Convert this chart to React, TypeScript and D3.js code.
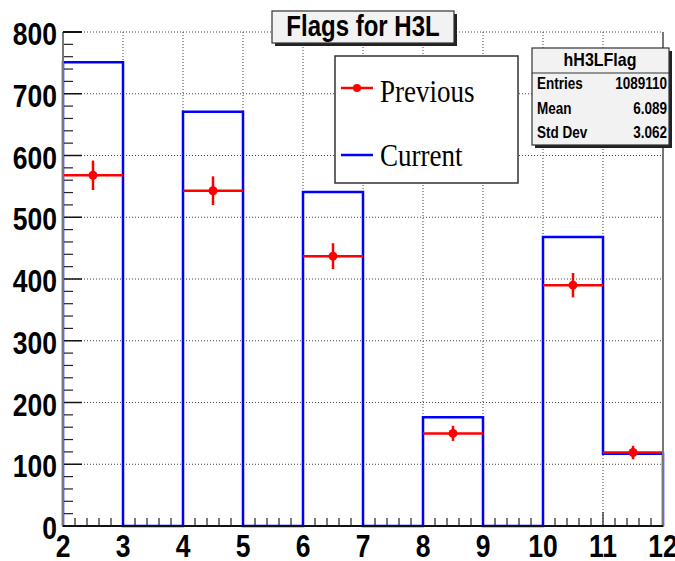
import React from "react";
import * as d3 from "d3";

const binLow = [2, 3, 4, 5, 6, 7, 8, 9, 10, 11];
const currentValues = [751, 0, 671, 0, 541, 0, 176, 0, 468, 117];
const previousValues = [568, 0, 543, 0, 437, 0, 150, 0, 390, 119];
const xTickValues = [2, 3, 4, 5, 6, 7, 8, 9, 10, 11, 12];
const yTickValues = [0, 100, 200, 300, 400, 500, 600, 700, 800];
const titleText = "Flags for H3L";
const legendLabels = ["Previous", "Current"];
const statsName = "hH3LFlag";
const statsRows: [string, string][] = [
  ["Entries", "1089110"],
  ["Mean", "6.089"],
  ["Std Dev", "3.062"],
];

const W = 675;
const H = 561;
const L = 63, R = 663, T = 32, B = 526;
const SANS = "'Liberation Sans', Arial, Helvetica, sans-serif";
const SERIF = "'Liberation Serif', 'Times New Roman', serif";

export default function App() {
  const x = d3.scaleLinear().domain([2, 12]).range([L, R]);
  const y = d3.scaleLinear().domain([0, 800]).range([B, T]);

  // step path for current histogram
  const pts: [number, number][] = [[2, 0]];
  binLow.forEach((lo, i) => {
    pts.push([lo, currentValues[i]]);
    pts.push([lo + 1, currentValues[i]]);
  });
  pts.push([12, 0]);
  const line = d3
    .line<[number, number]>()
    .x((d) => x(d[0]))
    .y((d) => y(d[1]));
  const stepPath = line(pts) || "";

  const yMinor: number[] = d3.range(0, 801, 20).filter((v) => v % 100 !== 0);
  const xMinor: number[] = d3.range(20, 120, 2).map((v) => v / 10).filter((v) => Math.abs(v - Math.round(v)) > 1e-6);

  return (
    <div style={{ position: "absolute", left: 0, top: 0 }}>
      <svg width={W} height={H} style={{ display: "block", background: "#fff" }}>
        {/* grid */}
        {xTickValues.filter((v) => v > 2 && v < 12).map((v) => (
          <line key={"gx" + v} x1={x(v)} x2={x(v)} y1={T} y2={B} stroke="#444" strokeWidth={1} strokeDasharray="1,2" />
        ))}
        {yTickValues.filter((v) => v > 0).map((v) => (
          <line key={"gy" + v} x1={L} x2={R} y1={y(v)} y2={y(v)} stroke="#444" strokeWidth={1} strokeDasharray="1,2" />
        ))}

        {/* y ticks */}
        {yTickValues.map((v) => (
          <line key={"yt" + v} x1={L} x2={L + 19} y1={y(v)} y2={y(v)} stroke="#111" strokeWidth={1.5} />
        ))}
        {yMinor.map((v) => (
          <line key={"ym" + v} x1={L} x2={L + 10} y1={y(v)} y2={y(v)} stroke="#222" strokeWidth={1.2} />
        ))}
        {/* x ticks */}
        {xTickValues.map((v) => (
          <line key={"xt" + v} x1={x(v)} x2={x(v)} y1={B} y2={B - 14} stroke="#222" strokeWidth={1.2} />
        ))}
        {xMinor.map((v) => (
          <line key={"xm" + v} x1={x(v)} x2={x(v)} y1={B} y2={B - 8} stroke="#222" strokeWidth={1.2} />
        ))}

        {/* current histogram */}
        <path d={stepPath} fill="none" stroke="#0000ff" strokeWidth={2.5} />

        {/* previous histogram with errors */}
        {binLow.map((lo, i) => {
          const v = previousValues[i];
          if (v <= 0) return null;
          const e = Math.sqrt(v);
          return (
            <g key={"p" + i}>
              <line x1={x(lo)} x2={x(lo + 1)} y1={y(v)} y2={y(v)} stroke="#ff0000" strokeWidth={2.5} />
              <line x1={x(lo + 0.5)} x2={x(lo + 0.5)} y1={y(v + e)} y2={y(v - e)} stroke="#ff0000" strokeWidth={2.5} />
              <circle cx={x(lo + 0.5)} cy={y(v)} r={4.5} fill="#ff0000" />
            </g>
          );
        })}

        {/* axes */}
        <line x1={L} x2={L} y1={T} y2={B + 1} stroke="#777" strokeWidth={2} />
        <line x1={R} x2={R} y1={T} y2={B + 1} stroke="#777" strokeWidth={2} />
        <line x1={L} x2={R} y1={B} y2={B} stroke="#111" strokeWidth={2} />
        <line x1={L} x2={L + 19} y1={T} y2={T} stroke="#111" strokeWidth={2} />

        {/* y labels */}
        {yTickValues.map((v) => (
          <text
            key={"yl" + v}
            transform={`translate(57,${y(v) + 13}) scale(1,1.17)`}
            textAnchor="end"
            fontFamily={SANS}
            fontWeight="bold"
            fontSize={26.5}
            fill="#000"
          >
            {v}
          </text>
        ))}
        {/* x labels */}
        {xTickValues.map((v) => (
          <text
            key={"xl" + v}
            transform={`translate(${x(v)},557) scale(1,1.17)`}
            textAnchor="middle"
            fontFamily={SANS}
            fontWeight="bold"
            fontSize={26.5}
            fill="#000"
          >
            {v}
          </text>
        ))}

        {/* title box */}
        <rect x={275} y={14} width={182} height={32} fill="#222" />
        <rect x={272} y={11} width={182} height={32} fill="#f2f2f2" stroke="#333" strokeWidth={1.2} />
        <text
          transform={`translate(363,36) scale(1,1.2)`}
          textAnchor="middle"
          fontFamily={SANS}
          fontWeight="bold"
          fontSize={24}
          fill="#000"
        >
          {titleText}
        </text>

        {/* legend */}
        <rect x={335} y={56} width={183} height={127} fill="#fff" stroke="#333" strokeWidth={1.5} />
        <line x1={341} x2={373} y1={88} y2={88} stroke="#ff0000" strokeWidth={2.5} />
        <circle cx={357} cy={88} r={4} fill="#ff0000" />
        <line x1={341} x2={373} y1={155} y2={155} stroke="#0000ff" strokeWidth={2.5} />
        <text transform="translate(380,102) scale(1,1.2)" fontFamily={SERIF} fontSize={27} fill="#000">
          {legendLabels[0]}
        </text>
        <text transform="translate(380,166) scale(1,1.2)" fontFamily={SERIF} fontSize={27} fill="#000">
          {legendLabels[1]}
        </text>

        {/* stats box */}
        <rect x={535} y={51} width={137} height={97} fill="#222" />
        <rect x={532} y={48} width={137} height={97} fill="#f2f2f2" stroke="#333" strokeWidth={1.2} />
        <line x1={532} x2={669} y1={73} y2={73} stroke="#333" strokeWidth={1.2} />
        <text
          transform="translate(600,66) scale(1,1.15)"
          textAnchor="middle"
          fontFamily={SANS}
          fontWeight="bold"
          fontSize={16}
          fill="#000"
        >
          {statsName}
        </text>
        {statsRows.map((r, i) => (
          <g key={"s" + i}>
            <text
              transform={`translate(537,${89 + i * 24.5}) scale(1,1.2)`}
              fontFamily={SANS}
              fontWeight="bold"
              fontSize={13.5}
              fill="#000"
            >
              {r[0]}
            </text>
            <text
              transform={`translate(667,${89 + i * 24.5}) scale(1,1.2)`}
              textAnchor="end"
              fontFamily={SANS}
              fontWeight="bold"
              fontSize={13.5}
              fill="#000"
            >
              {r[1]}
            </text>
          </g>
        ))}
      </svg>
    </div>
  );
}
